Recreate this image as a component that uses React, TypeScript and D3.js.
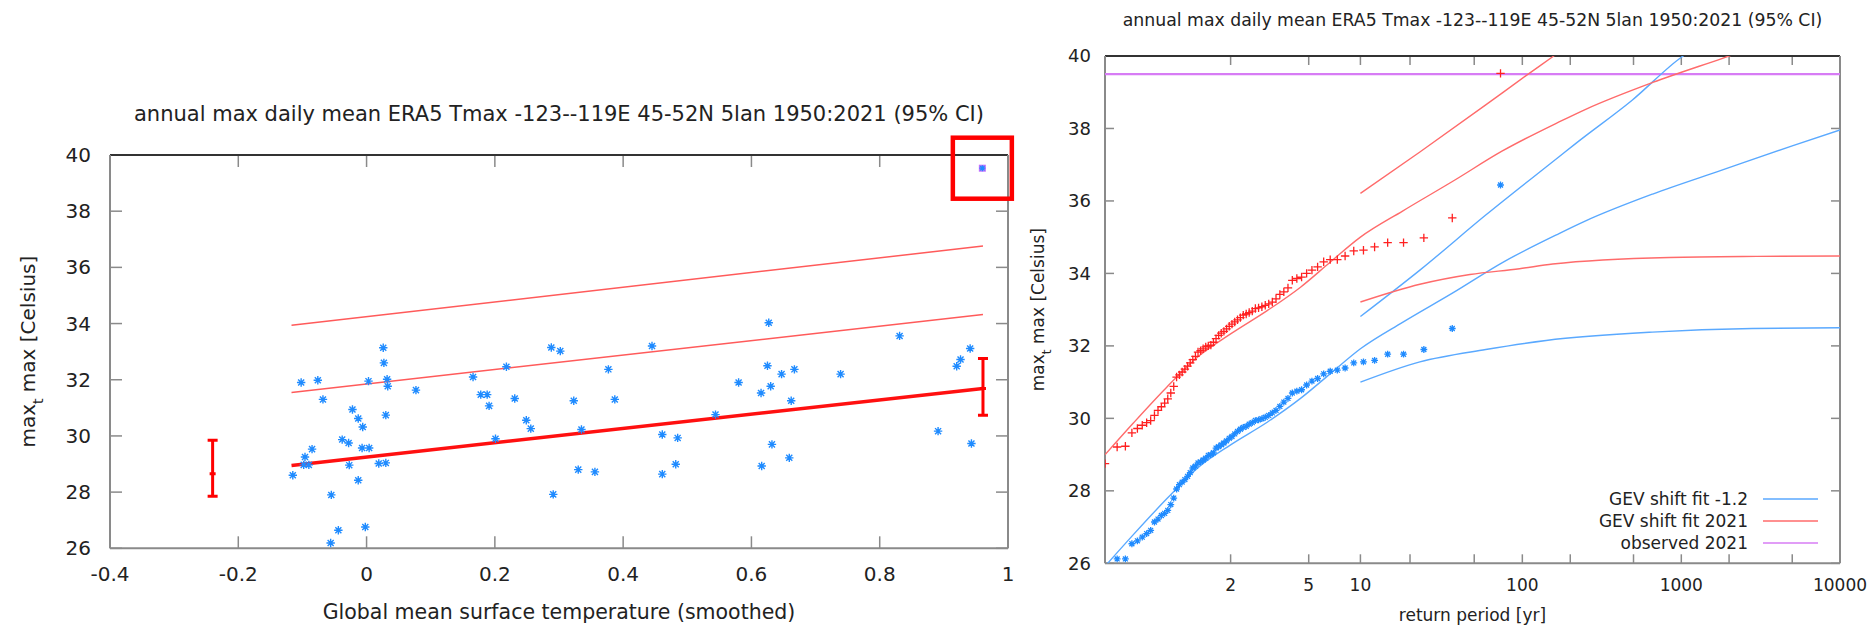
import React from 'react';
import * as d3 from 'd3';

const W = 1869;
const H = 630;
const FONT = '"DejaVu Sans", sans-serif';
const TITLE = 'annual max daily mean ERA5 Tmax -123--119E 45-52N 5lan 1950:2021 (95% CI)';

// left panel: annual maxima against smoothed global mean temperature
const gmst = [
  -0.115, -0.102, -0.076, -0.068, -0.096, -0.098, -0.090, -0.085, -0.055, -0.044,
  -0.056, -0.038, -0.028, -0.027, -0.022, -0.013, -0.006, -0.013, -0.007, 0.004,
  -0.002, 0.003, 0.019, 0.030, 0.026, 0.027, 0.032, 0.033, 0.030, 0.077,
  0.166, 0.178, 0.188, 0.191, 0.201, 0.218, 0.231, 0.249, 0.256, 0.288,
  0.302, 0.291, 0.323, 0.330, 0.335, 0.356, 0.377, 0.387, 0.445, 0.461,
  0.485, 0.461, 0.482, 0.544, 0.580, 0.615, 0.616, 0.627, 0.625, 0.630,
  0.632, 0.647, 0.662, 0.659, 0.667, 0.739, 0.831, 0.891, 0.920, 0.926,
  0.941, 0.943,
];
const tmax = [
  28.60, 31.90, 31.98, 31.30, 29.25, 28.97, 28.97, 29.53, 27.90, 26.64,
  26.19, 29.87, 29.75, 28.96, 30.94, 30.62, 30.32, 28.42, 29.57, 29.57,
  26.76, 31.95, 29.02, 29.04, 33.14, 32.60, 32.02, 31.77, 30.74, 31.63,
  32.10, 31.47, 31.47, 31.07, 29.90, 32.46, 31.33, 30.56, 30.26, 33.15,
  33.02, 27.92, 31.25, 28.80, 30.23, 28.72, 32.37, 31.30, 33.20, 30.05,
  29.93, 28.64, 28.99, 30.76, 31.90, 31.53, 28.93, 34.03, 32.50, 31.77,
  29.70, 32.20, 31.25, 29.22, 32.37, 32.20, 33.56, 30.17, 32.48, 32.72,
  33.11, 29.73,
];
const event2021 = [0.96, 39.53];
const fitGmst = [-0.117, 0.961];
const fitMu = [28.95, 31.69];
const fitMuPlus1 = [31.55, 34.32];
const fitMuPlus2 = [33.94, 36.76];
const ciGmst = [-0.24, 0.961];
const ciLow = [27.85, 30.74];
const ciMid = [28.65, 31.69];
const ciHigh = [29.85, 32.76];
const xTicksL = [-0.4, -0.2, 0, 0.2, 0.4, 0.6, 0.8, 1];
const yTicks = [26, 28, 30, 32, 34, 36, 38, 40];

// right panel: sorted observations (largest first), shifted to each climate
const shifted2021 = [
  39.52, 35.53, 34.98, 34.85, 34.85, 34.73, 34.64, 34.62, 34.48, 34.38,
  34.38, 34.32, 34.18, 34.09, 34.00, 33.90, 33.86, 33.81, 33.60, 33.49,
  33.42, 33.30, 33.21, 33.16, 33.12, 33.08, 33.05, 33.03, 32.96, 32.92,
  32.88, 32.85, 32.78, 32.72, 32.66, 32.60, 32.54, 32.47, 32.40, 32.35,
  32.29, 32.20, 32.10, 32.02, 32.00, 31.97, 31.92, 31.87, 31.83, 31.71,
  31.62, 31.53, 31.44, 31.36, 31.28, 31.20, 31.14, 30.88, 30.70, 30.54,
  30.42, 30.32, 30.22, 30.08, 29.94, 29.88, 29.81, 29.72, 29.60, 29.23,
  29.21, 28.75,
];
const shiftedPast = [
  36.44, 32.48, 31.90, 31.77, 31.77, 31.60, 31.56, 31.53, 31.39, 31.33,
  31.30, 31.23, 31.10, 31.03, 30.92, 30.79, 30.75, 30.70, 30.55, 30.45,
  30.33, 30.22, 30.15, 30.08, 30.03, 29.99, 29.96, 29.94, 29.88, 29.84,
  29.78, 29.75, 29.70, 29.64, 29.57, 29.50, 29.45, 29.38, 29.32, 29.27,
  29.22, 29.18, 29.05, 29.00, 28.98, 28.90, 28.85, 28.80, 28.77, 28.68,
  28.63, 28.50, 28.40, 28.31, 28.24, 28.17, 28.05, 27.80, 27.62, 27.46,
  27.38, 27.32, 27.22, 27.14, 26.91, 26.82, 26.72, 26.62, 26.54, 26.12,
  26.12, 25.67,
];
const fitT = [1.014, 1.06, 1.21, 1.5, 2, 3, 4.5, 6.6, 10, 18, 37, 75, 170, 250, 660, 1800, 5000, 10000];
const fit2021 = [29.0, 29.85, 30.86, 31.72, 32.33, 32.98, 33.62, 34.3, 35.0, 35.72, 36.55, 37.38, 38.18, 38.53, 39.27, 39.93, 40.6, 41.0];
const fitPast = [25.92, 26.77, 27.78, 28.66, 29.27, 29.9, 30.55, 31.22, 31.92, 32.65, 33.47, 34.3, 35.1, 35.45, 36.19, 36.85, 37.52, 37.96];
const hi2021T = [10, 23, 59, 105, 155, 200];
const hi2021 = [36.21, 37.35, 38.65, 39.45, 39.98, 40.33];
const lo2021T = [10, 23, 47, 96, 155, 840, 3000, 10000];
const lo2021 = [33.21, 33.7, 33.97, 34.13, 34.26, 34.44, 34.47, 34.48];
const hiPastT = [10, 23, 59, 170, 217, 490, 1010, 1200];
const hiPast = [32.81, 34.09, 35.61, 37.22, 37.59, 38.78, 39.98, 40.2];
const loPastT = [10, 23, 59, 141, 657, 2800, 10000];
const loPast = [31.0, 31.56, 31.9, 32.15, 32.38, 32.48, 32.5];
const observed2021 = 39.5;
const xMinorR = [2, 5, 10, 20, 50, 100, 200, 500, 1000, 2000, 5000];
const xLabelsR = [2, 5, 10, 100, 1000, 10000];
const legendLabels = ['GEV shift fit -1.2', 'GEV shift fit 2021', 'observed 2021'];
const legendColors = ['#5aa9ff', '#ff6b6b', '#d77cf5'];

const BLUE = '#1f8bff';
const TXT = '#222';
const GRID = '#8a8a8a';

const gumbel = (T: number) => -Math.log(-Math.log(1 - 1 / T));

const star = (x: number, y: number, r: number) => {
  const d = r * 0.72;
  return `M${x - r},${y}H${x + r}M${x},${y - r}V${y + r}M${x - d},${y - d}L${x + d},${y + d}M${x - d},${y + d}L${x + d},${y - d}`;
};
const plus = (x: number, y: number, r: number) => `M${x - r},${y}H${x + r}M${x},${y - r}V${y + r}`;

function Frame({ x0, x1, y0, y1 }: { x0: number; x1: number; y0: number; y1: number }) {
  return (
    <g strokeWidth={2}>
      <line x1={x0} x2={x1} y1={y0} y2={y0} stroke="#333" />
      <line x1={x0} x2={x1} y1={y1} y2={y1} stroke={GRID} />
      <line x1={x0} x2={x0} y1={y0} y2={y1} stroke={GRID} />
      <line x1={x1} x2={x1} y1={y0} y2={y1} stroke={GRID} />
    </g>
  );
}

function LeftPanel() {
  const x = d3.scaleLinear().domain([-0.4, 1]).range([110, 1008]);
  const y = d3.scaleLinear().domain([26, 40]).range([548.3, 155]);
  const [x0, x1] = x.range();
  const [y1, y0] = y.range();
  const seg = d3.line<number>().x((_, i) => x(fitGmst[i])).y((d) => y(d));
  const ex = x(event2021[0]);
  const ey = y(event2021[1]);
  const cap = 5;
  return (
    <g fontFamily={FONT} fill={TXT}>
      <text x={(x0 + x1) / 2} y={121} fontSize={21} textAnchor="middle">{TITLE}</text>
      <defs>
        <clipPath id="clipL"><rect x={x0} y={y0} width={x1 - x0} height={y1 - y0} /></clipPath>
      </defs>
      {yTicks.map((t) => (
        <g key={t}>
          <line x1={x0} x2={x0 + 12} y1={y(t)} y2={y(t)} stroke={GRID} strokeWidth={1.5} />
          <line x1={x1} x2={x1 - 12} y1={y(t)} y2={y(t)} stroke={GRID} strokeWidth={1.5} />
          <text x={91} y={y(t)} dy="0.35em" fontSize={20} textAnchor="end">{t}</text>
        </g>
      ))}
      {xTicksL.map((t) => (
        <g key={t}>
          <line x1={x(t)} x2={x(t)} y1={y1} y2={y1 - 12} stroke={GRID} strokeWidth={1.5} />
          <line x1={x(t)} x2={x(t)} y1={y0} y2={y0 + 12} stroke={GRID} strokeWidth={1.5} />
          <text x={x(t)} y={581} fontSize={20} textAnchor="middle">{t}</text>
        </g>
      ))}
      <Frame x0={x0} x1={x1} y0={y0} y1={y1} />
      <g clipPath="url(#clipL)" fill="none">
        <path d={seg(fitMuPlus2) ?? ''} stroke="#ff5a5a" strokeWidth={1.5} />
        <path d={seg(fitMuPlus1) ?? ''} stroke="#ff5a5a" strokeWidth={1.5} />
        <path d={seg(fitMu) ?? ''} stroke="#ff1010" strokeWidth={3.5} />
        <path
          d={gmst.map((g, i) => star(x(g), y(tmax[i]), 4.2)).join('')}
          stroke={BLUE}
          strokeWidth={1.4}
        />
      </g>
      {ciGmst.map((g, i) => (
        <path
          key={i}
          d={`M${x(g) - cap},${y(ciHigh[i])}H${x(g) + cap}M${x(g)},${y(ciHigh[i])}V${y(ciLow[i])}M${x(g) - cap},${y(ciLow[i])}H${x(g) + cap}M${x(g) - 3},${y(ciMid[i])}H${x(g) + 3}`}
          stroke="#ff0000"
          strokeWidth={3}
          fill="none"
        />
      ))}
      <rect x={ex - 3.5} y={ey - 3.5} width={7} height={7} fill="#c070ff" />
      <path d={star(ex, ey, 3)} stroke={BLUE} strokeWidth={1.2} fill="none" />
      <rect x={ex - 29.5} y={ey - 30.5} width={59} height={61} fill="none" stroke="#ff0000" strokeWidth={4.5} />
      <text x={(x0 + x1) / 2} y={619} fontSize={20.5} textAnchor="middle">
        Global mean surface temperature (smoothed)
      </text>
      <text transform={`translate(35,${(y0 + y1) / 2}) rotate(-90)`} fontSize={20} textAnchor="middle">
        max<tspan baselineShift="sub" fontSize={14}>t</tspan> max [Celsius]
      </text>
    </g>
  );
}

function RightPanel() {
  const n = shifted2021.length;
  const x = d3.scaleLinear().domain([gumbel((n + 1) / n), gumbel(10000)]).range([1105, 1840]);
  const y = d3.scaleLinear().domain([26, 40]).range([563.3, 56]);
  const [x0, x1] = x.range();
  const [y1, y0] = y.range();
  const xT = (T: number) => x(gumbel(T));
  const curve = (ts: number[], vs: number[]) =>
    d3
      .line<number>()
      .x((_, i) => xT(ts[i]))
      .y((d) => y(d))
      .curve(d3.curveMonotoneX)(vs) ?? '';
  // plotting position of the i-th largest value
  const rp = (i: number) => (n + 1) / (i + 1);
  return (
    <g fontFamily={FONT} fill={TXT}>
      <text x={(x0 + x1) / 2} y={26} fontSize={17.3} textAnchor="middle">{TITLE}</text>
      <defs>
        <clipPath id="clipR"><rect x={x0} y={y0} width={x1 - x0} height={y1 - y0} /></clipPath>
      </defs>
      {yTicks.map((t) => (
        <g key={t}>
          <line x1={x0} x2={x0 + 9} y1={y(t)} y2={y(t)} stroke={GRID} strokeWidth={1.5} />
          <line x1={x1} x2={x1 - 9} y1={y(t)} y2={y(t)} stroke={GRID} strokeWidth={1.5} />
          <text x={1091} y={y(t)} dy="0.35em" fontSize={18} textAnchor="end">{t}</text>
        </g>
      ))}
      {xMinorR.map((t) => (
        <g key={t}>
          <line x1={xT(t)} x2={xT(t)} y1={y1} y2={y1 - 9} stroke={GRID} strokeWidth={1.5} />
          <line x1={xT(t)} x2={xT(t)} y1={y0} y2={y0 + 9} stroke={GRID} strokeWidth={1.5} />
        </g>
      ))}
      {xLabelsR.map((t) => (
        <text key={t} x={xT(t)} y={591} fontSize={17} textAnchor="middle">{t}</text>
      ))}
      <Frame x0={x0} x1={x1} y0={y0} y1={y1} />
      <g clipPath="url(#clipR)" fill="none">
        <line x1={x0} x2={x1} y1={y(observed2021)} y2={y(observed2021)} stroke={legendColors[2]} strokeWidth={2.2} />
        <path d={curve(fitT, fitPast)} stroke={legendColors[0]} strokeWidth={1.4} />
        <path d={curve(hiPastT, hiPast)} stroke={legendColors[0]} strokeWidth={1.4} />
        <path d={curve(loPastT, loPast)} stroke={legendColors[0]} strokeWidth={1.4} />
        <path d={curve(fitT, fit2021)} stroke={legendColors[1]} strokeWidth={1.4} />
        <path d={curve(hi2021T, hi2021)} stroke={legendColors[1]} strokeWidth={1.4} />
        <path d={curve(lo2021T, lo2021)} stroke={legendColors[1]} strokeWidth={1.4} />
        <path
          d={shiftedPast.map((v, i) => star(xT(rp(i)), y(v), 3.4)).join('')}
          stroke={BLUE}
          strokeWidth={1.3}
        />
        <path
          d={shifted2021.map((v, i) => plus(xT(rp(i)), y(v), 4.2)).join('')}
          stroke="#ff2020"
          strokeWidth={1.3}
        />
      </g>
      {legendLabels.map((l, i) => (
        <g key={l}>
          <text x={1748} y={499 + i * 22} dy="0.35em" fontSize={17} textAnchor="end">{l}</text>
          <line x1={1763} x2={1818} y1={499 + i * 22} y2={499 + i * 22} stroke={legendColors[i]} strokeWidth={1.6} />
        </g>
      ))}
      <text x={(x0 + x1) / 2} y={621} fontSize={17} textAnchor="middle">return period [yr]</text>
      <text transform={`translate(1044,${(y0 + y1) / 2}) rotate(-90)`} fontSize={17} textAnchor="middle">
        max<tspan baselineShift="sub" fontSize={12}>t</tspan> max [Celsius]
      </text>
    </g>
  );
}

export default function App() {
  return (
    <div style={{ position: 'absolute', left: 0, top: 0 }}>
      <svg width={W} height={H} viewBox={`0 0 ${W} ${H}`} style={{ display: 'block', background: '#fff' }}>
        <LeftPanel />
        <RightPanel />
      </svg>
    </div>
  );
}
